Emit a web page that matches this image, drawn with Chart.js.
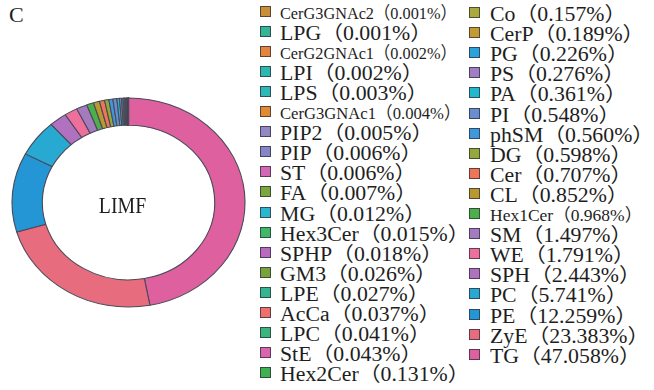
<!DOCTYPE html>
<html><head><meta charset="utf-8">
<script src="https://cdn.jsdelivr.net/npm/chart.js@4"></script>
<style>
html,body{margin:0;padding:0;background:#fff;width:654px;height:390px;overflow:hidden}
#tag{position:absolute;left:9px;top:2px;font:22px "Liberation Serif",serif;color:#1e1e1e}
#wrap{position:absolute;left:0;top:0;width:257px;height:390px}
.row{position:absolute;height:20px;display:flex;align-items:center;white-space:nowrap;
 font-family:"Liberation Serif","Noto Sans CJK SC",serif;font-size:20px;color:#1e1e1e}
.sw{width:9px;height:9px;border:1px solid rgba(45,45,55,.75);flex:none}
.tx{display:inline-block;transform-origin:0 50%}
</style></head><body>
<div id="tag">C</div>
<div id="wrap"><canvas id="c" width="257" height="390"></canvas></div>
<div id="legend"></div>
<script>
// Lipid classes in legend order (ascending share), values in %
const classNames = ["CerG3GNAc2","LPG","CerG2GNAc1","LPI","LPS","CerG3GNAc1","PIP2","PIP","ST","FA",
  "MG","Hex3Cer","SPHP","GM3","LPE","AcCa","LPC","StE","Hex2Cer",
  "Co","CerP","PG","PS","PA","PI","phSM","DG","Cer","CL",
  "Hex1Cer","SM","WE","SPH","PC","PE","ZyE","TG"];
const shares = [0.001,0.001,0.002,0.002,0.003,0.004,0.005,0.006,0.006,0.007,
  0.012,0.015,0.018,0.026,0.027,0.037,0.041,0.043,0.131,
  0.157,0.189,0.226,0.276,0.361,0.548,0.560,0.598,0.707,0.852,
  0.968,1.497,1.791,2.443,5.741,12.259,23.383,47.058];
const classColors = ["#c98f38","#35b597","#e3843f","#2bb8b0","#2cb8b5","#e08a33","#9388c6","#8585c8","#d466b6","#7ba83c",
  "#2ab6cc","#3db865","#b96ac0","#77a23c","#34b591","#ee6f6b","#3cb57c","#d964b0","#3fb150",
  "#a9a93d","#c49a35","#2aa3dc","#a07dc5","#20b8cf","#6a8dcf","#3f97dc","#93a93b","#f07556","#b8982f",
  "#4caf4c","#a57bc0","#ee6f9c","#b072c0","#28a9d2","#2496d6","#e66c7e","#de609f"];
const centerLabel = "LIMF";

// donut is drawn largest first, clockwise from 12 o'clock
const donutLabels = classNames.slice().reverse();
const donutVals = shares.slice().reverse();
const donutColors = classColors.slice().reverse();

const SX = 1.115; // horizontal stretch of the ring (ellipse)
const squash = {
  id:'squash',
  beforeDatasetsDraw(chart){
    const a = chart.getDatasetMeta(0).data[0]; const c = chart.ctx;
    c.save(); c.translate(a.x, a.y); c.scale(SX,1); c.translate(-a.x,-a.y);
  },
  afterDatasetsDraw(chart){ chart.ctx.restore(); }
};
const centerText = {
  id:'centerText',
  afterDraw(chart){
    const a = chart.getDatasetMeta(0).data[0]; const c = chart.ctx;
    c.save();
    c.translate(a.x - 6, a.y + 4);
    c.scale(0.86,1);
    c.font = '23px "Liberation Serif", serif';
    c.fillStyle = '#1e1e1e'; c.textAlign='center'; c.textBaseline='middle';
    c.fillText(centerLabel, 0, 0);
    c.restore();
  }
};

new Chart(document.getElementById('c'), {
  type:'doughnut',
  data:{labels:donutLabels, datasets:[{data:donutVals, backgroundColor:donutColors,
    borderColor:'#4a4a58', borderWidth:1, clip:false}]},
  options:{responsive:false, devicePixelRatio:1, animation:false, cutout:'74%', rotation:0,
    layout:{padding:{left:23.5,right:23.5,top:97.5,bottom:82.5}},
    plugins:{legend:{display:false}, tooltip:{enabled:false}}},
  plugins:[squash, centerText]
});

// HTML legend in two columns
const condensed = {"CerG3GNAc2":[17.5,0.93],"CerG2GNAc1":[17.5,0.93],"CerG3GNAc1":[17.5,0.95],"Hex1Cer":[17.5,1.0]};
const colStretch = [1.09, 1.09];
const leg = document.getElementById('legend');
const perCol = 19, pitch = 20.1;
classNames.forEach((n,i)=>{
  const col = i < perCol ? 0 : 1, r = col ? i - perCol : i;
  const row = document.createElement('div'); row.className='row';
  row.style.left = (col ? 469 : 260) + 'px';
  row.style.top = ((col ? 12.5 : 11) + r*pitch - 10) + 'px';
  const sw = document.createElement('span'); sw.className='sw'; sw.style.background = classColors[i];
  sw.style.marginRight = (col ? 10 : 9) + 'px';
  const tx = document.createElement('span'); tx.className='tx';
  tx.textContent = n + '（' + shares[i].toFixed(3) + '%）';
  let sx = colStretch[col];
  if (condensed[n]) { tx.style.fontSize = condensed[n][0]+'px'; sx = condensed[n][1]; }
  tx.style.transform = 'scaleX('+sx+')';
  row.appendChild(sw); row.appendChild(tx); leg.appendChild(row);
});
</script>
</body></html>
